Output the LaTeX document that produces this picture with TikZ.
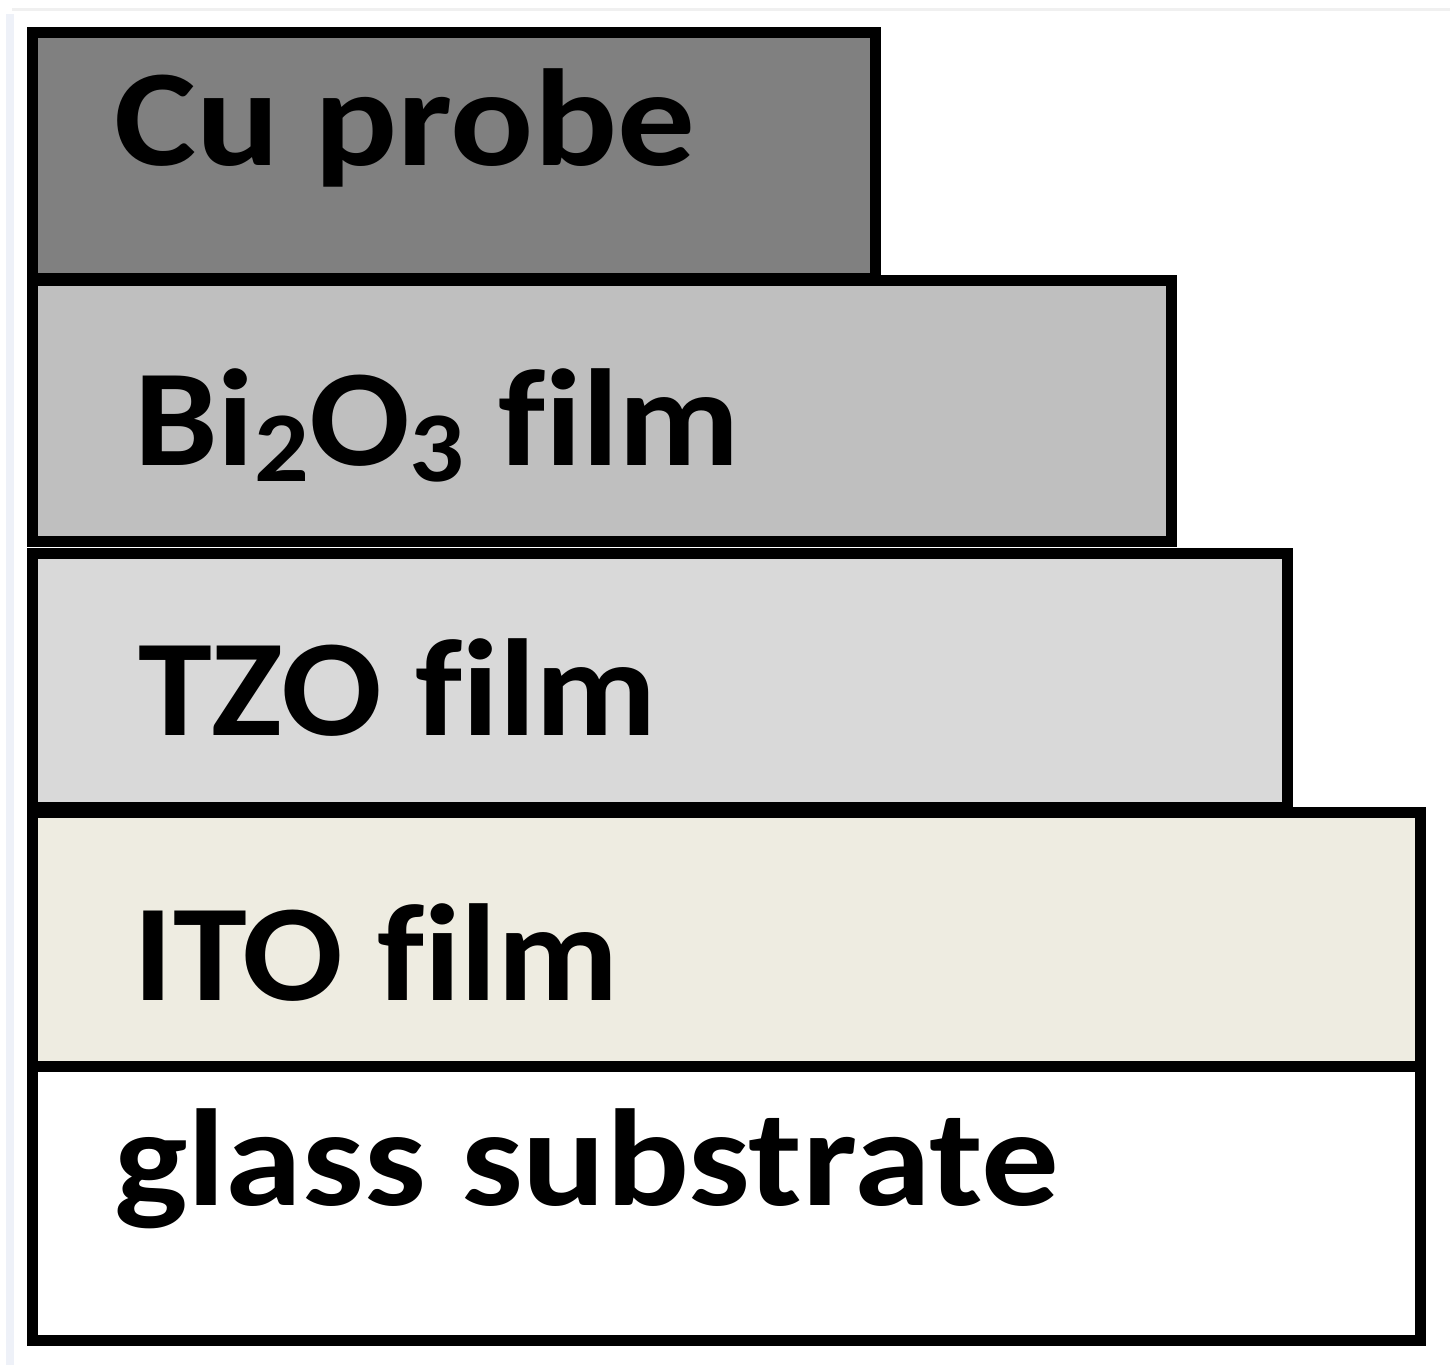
\documentclass[tikz,border=0pt]{standalone}
\usepackage{fontspec}
\setmainfont[Ligatures=NoCommon]{Carlito}
\definecolor{cuFill}{HTML}{808080}
\definecolor{biFill}{HTML}{BFBFBF}
\definecolor{tzoFill}{HTML}{D9D9D9}
\definecolor{itoFill}{HTML}{EEECE1}
\definecolor{frameBlue}{HTML}{EEF1F8}
\begin{document}
\begin{tikzpicture}[x=1pt,y=-1pt,
  lyrbox/.style={draw=black,line width=11pt,line join=miter},
  lyrtext/.style={anchor=base west,inner sep=0pt,xscale=1.08,transform shape,
    font=\fontsize{138pt}{160pt}\selectfont\bfseries}]
\useasboundingbox (0,0) rectangle (1450,1365);
% faint outer frame of the screenshot
\draw[frameBlue,line width=8pt] (10,14) -- (10,1365);
\draw[gray!12,line width=3pt] (12,9) -- (1450,9);
% layers
\draw[lyrbox,fill=white]   (32,1066) rectangle (1420,1340);
\draw[lyrbox,fill=itoFill] (32,812)  rectangle (1420,1066);
\draw[lyrbox,fill=tzoFill] (32,553)  rectangle (1287,807);
\draw[lyrbox,fill=biFill]  (32,280)  rectangle (1171,541);
\draw[lyrbox,fill=cuFill]  (32,32)   rectangle (875,278);
% texts
\node[lyrtext,xscale=1.04] (cu) at (114,165) {Cu probe};
\node[lyrtext] (bi)    at (134,465)  {Bi\raisebox{-16pt}{\fontsize{100pt}{100pt}\selectfont 2}O\raisebox{-16pt}{\fontsize{100pt}{100pt}\selectfont 3} film};
\node[lyrtext] (tzo)   at (138,735)  {TZO film};
\node[lyrtext] (ito)   at (133,1000) {ITO film};
\node[lyrtext,xscale=1.04] (glass) at (114,1205) {glass substrate};
\end{tikzpicture}
\end{document}
